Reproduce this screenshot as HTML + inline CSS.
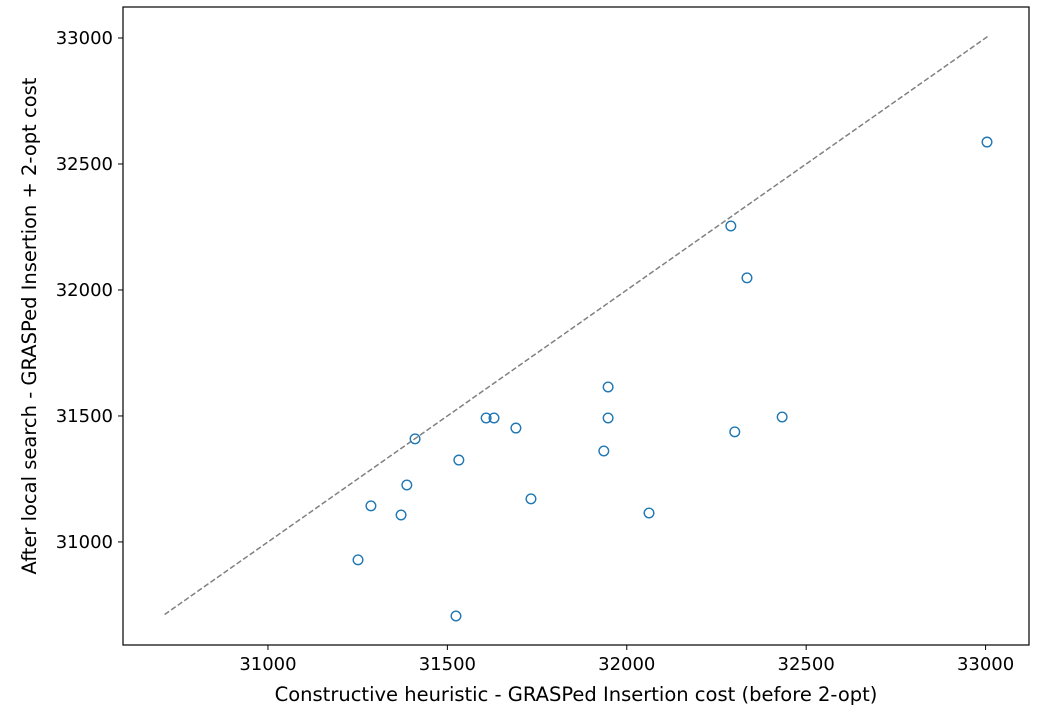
<!DOCTYPE html>
<html><head><meta charset="utf-8"><style>
html,body{margin:0;padding:0;background:#fff;}
svg{display:block;font-family:"DejaVu Sans","Liberation Sans",sans-serif;}
</style></head><body>
<svg id="chart" width="1050" height="726"></svg>
<script>
const xVals=[31251,31287,31371,31387,31410,31524,31532,31608,31630,31691,31733,31936,31948,31948,32062,32290,32301,32335,32433,33004];
const yVals=[30929,31143,31107,31226,31409,30706,31325,31492,31492,31452,31171,31361,31615,31492,31115,32254,31437,32048,31496,32587];
const xTicks=[31000,31500,32000,32500,33000];
const yTicks=[31000,31500,32000,32500,33000];
const diag=[30712,33010];
const NS="http://www.w3.org/2000/svg";
const svg=document.getElementById('chart');
const L=123,R=1029,T=7,B=645;
const X0=30596,X1=33121,Y0=30591,Y1=33123;
const sx=v=>L+(v-X0)/(X1-X0)*(R-L);
const sy=v=>B-(v-Y0)/(Y1-Y0)*(B-T);
function mk(tag,attrs,parent){const e=document.createElementNS(NS,tag);for(const k in attrs)e.setAttribute(k,attrs[k]);(parent||svg).appendChild(e);return e;}
const dl=mk('line',{x1:sx(diag[0]),y1:sy(diag[0]),x2:sx(diag[1]),y2:sy(diag[1]),stroke:'#808080','stroke-width':1.5,'stroke-dasharray':'5.5,2.5'});


xVals.forEach((v,i)=>{
  const c=mk('circle',{cx:sx(v),cy:sy(yVals[i]),r:4.8,fill:'none',stroke:'#1f77b4','stroke-width':1.4});
  
  
});
const frame=mk('rect',{x:L,y:T,width:R-L,height:B-T,fill:'none',stroke:'#000','stroke-width':1.2});


xTicks.forEach(v=>{
  mk('line',{x1:sx(v),x2:sx(v),y1:B,y2:B+5,stroke:'#000','stroke-width':1});
  const t=mk('text',{x:sx(v),y:B+25,'text-anchor':'middle','font-size':18});
  t.textContent=v;
  
  
});
yTicks.forEach(v=>{
  mk('line',{x1:L-5,x2:L,y1:sy(v),y2:sy(v),stroke:'#000','stroke-width':1});
  const t=mk('text',{x:L-10,y:sy(v)+6,'text-anchor':'end','font-size':18});
  t.textContent=v;
  
  
});
const xt=mk('text',{x:576,y:701,'text-anchor':'middle','font-size':19.5});
xt.textContent='Constructive heuristic - GRASPed Insertion cost (before 2-opt)';


const yt=mk('text',{x:0,y:0,'text-anchor':'middle','font-size':19.5,transform:`translate(36,326) rotate(-90)`});
yt.textContent='After local search - GRASPed Insertion + 2-opt cost';


</script>
</body></html>
